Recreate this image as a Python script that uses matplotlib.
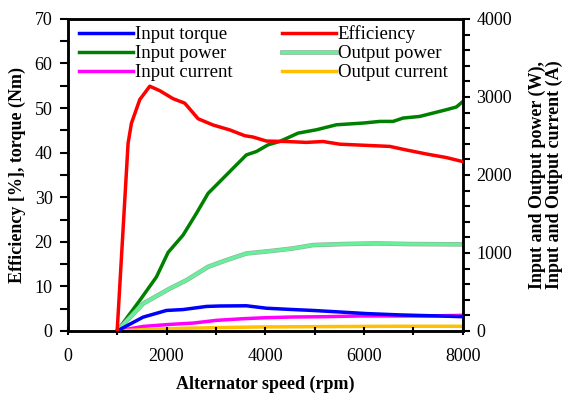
import matplotlib
matplotlib.use("Agg")
import matplotlib.pyplot as plt
import matplotlib.patheffects as pe
from matplotlib.ticker import MultipleLocator

plt.rcParams['font.family'] = ['Liberation Serif', 'DejaVu Serif']

# Left axis series
eff_x = [1000, 1221, 1289, 1458, 1660, 1863, 2133, 2369, 2640, 2943, 3281, 3584, 3753, 4023,
         4428, 4833, 5170, 5508, 5913, 6521, 6858, 7263, 7668, 8000]
eff_y = [0, 42.1, 46.6, 51.9, 54.9, 53.9, 52.1, 51.1, 47.6, 46.2, 45.1, 43.8, 43.5, 42.6,
         42.5, 42.3, 42.5, 41.9, 41.7, 41.4, 40.6, 39.7, 38.9, 38.0]

tq_x = [1000, 1525, 1998, 2335, 2808, 3078, 3618, 4023, 4563, 4968, 5441, 6049, 6723, 7398, 8000]
tq_y = [0, 3.1, 4.6, 4.8, 5.5, 5.6, 5.65, 5.1, 4.8, 4.6, 4.3, 3.9, 3.6, 3.4, 3.2]

# Right axis series
pin_x = [1000, 1458, 1795, 2032, 2335, 2605, 2842, 3146, 3348, 3618, 3820, 4057, 4293, 4665,
         5036, 5441, 5981, 6319, 6588, 6791, 7128, 7398, 7668, 7871, 8000]
pin_y = [0, 392, 692, 1007, 1229, 1507, 1764, 1957, 2086, 2257, 2300, 2386, 2429, 2536,
         2579, 2643, 2665, 2686, 2686, 2729, 2750, 2793, 2836, 2871, 2940]

pout_x = [1000, 1525, 2065, 2403, 2842, 3213, 3618, 4158, 4563, 4968, 5576, 6251, 6926, 8000]
pout_y = [0, 350, 543, 650, 822, 908, 993, 1028, 1058, 1101, 1114, 1122, 1114, 1110]

iin_x = [1000, 1525, 2065, 2538, 3011, 3551, 4023, 4563, 5238, 5913, 6588, 7263, 8000]
iin_y = [0, 58, 84, 101, 136, 157, 170, 179, 183, 192, 192, 192, 200]

iout_x = [1000, 1660, 2335, 3078, 3888, 5238, 6588, 8000]
iout_y = [0, 21, 34, 43, 51, 56, 60, 60]

fig = plt.figure(figsize=(5.65, 3.94), dpi=100)
ax = fig.add_axes([0.120, 0.160, 0.699, 0.792])
ax2 = ax.twinx()

lw = 2.5
l_tq, = ax.plot(tq_x, tq_y, color='#0000ff', lw=lw, label='Input torque', zorder=3)
l_eff, = ax.plot(eff_x, eff_y, color='#ff0000', lw=lw, label='Efficiency', zorder=3)
l_pin, = ax2.plot(pin_x, pin_y, color='#008000', lw=lw, label='Input power')
l_pout, = ax2.plot(pout_x, pout_y, color='#66f099', lw=lw, label='Output power',
                   path_effects=[pe.Stroke(linewidth=lw + 0.8, foreground='#9aa89f'), pe.Normal()])
l_iin, = ax2.plot(iin_x, iin_y, color='#ff00ff', lw=lw, label='Input current')
l_iout, = ax2.plot(iout_x, iout_y, color='#ffc000', lw=lw, label='Output current')

ax.set_zorder(ax2.get_zorder() + 1)
ax.patch.set_visible(False)

ax.set_xlim(0, 8000)
ax.set_ylim(0, 70)
ax2.set_ylim(0, 4000)
ax.xaxis.set_major_locator(MultipleLocator(2000))
ax.xaxis.set_minor_locator(MultipleLocator(1000))
ax.yaxis.set_major_locator(MultipleLocator(10))
ax.yaxis.set_minor_locator(MultipleLocator(5))
ax2.yaxis.set_major_locator(MultipleLocator(1000))
ax2.yaxis.set_minor_locator(MultipleLocator(200))

ax.tick_params(axis='x', which='both', direction='inout', length=6, width=1.5, labelsize=13, pad=9)
ax.tick_params(axis='y', which='both', direction='out', length=6, width=1.5, labelsize=13, pad=5)
ax2.tick_params(axis='y', which='both', direction='out', length=5, width=1.5, labelsize=13, pad=5)
for a in (ax, ax2):
    for s in a.spines.values():
        s.set_linewidth(1.8)

ax.set_xlabel('Alternator speed (rpm)', fontsize=13, fontweight='bold', labelpad=8)
ax.set_ylabel('Efficiency [%], torque (Nm)', fontsize=13, fontweight='bold', labelpad=6)
ax2.set_ylabel('Input and Output power (W),\nInput and Output current (A)', fontsize=13,
               fontweight='bold', labelpad=12, linespacing=0.95)

order = [l_tq, l_pin, l_iin, l_eff, l_pout, l_iout]
ax.legend(handles=order, labels=[h.get_label() for h in order], ncol=2, frameon=False,
          fontsize=13.5, loc='upper left', bbox_to_anchor=(0.0, 1.015), handlelength=2.9,
          handletextpad=0.1, columnspacing=2.6, labelspacing=0.1, borderaxespad=0.2)

fig.savefig('out.png', dpi=100)
